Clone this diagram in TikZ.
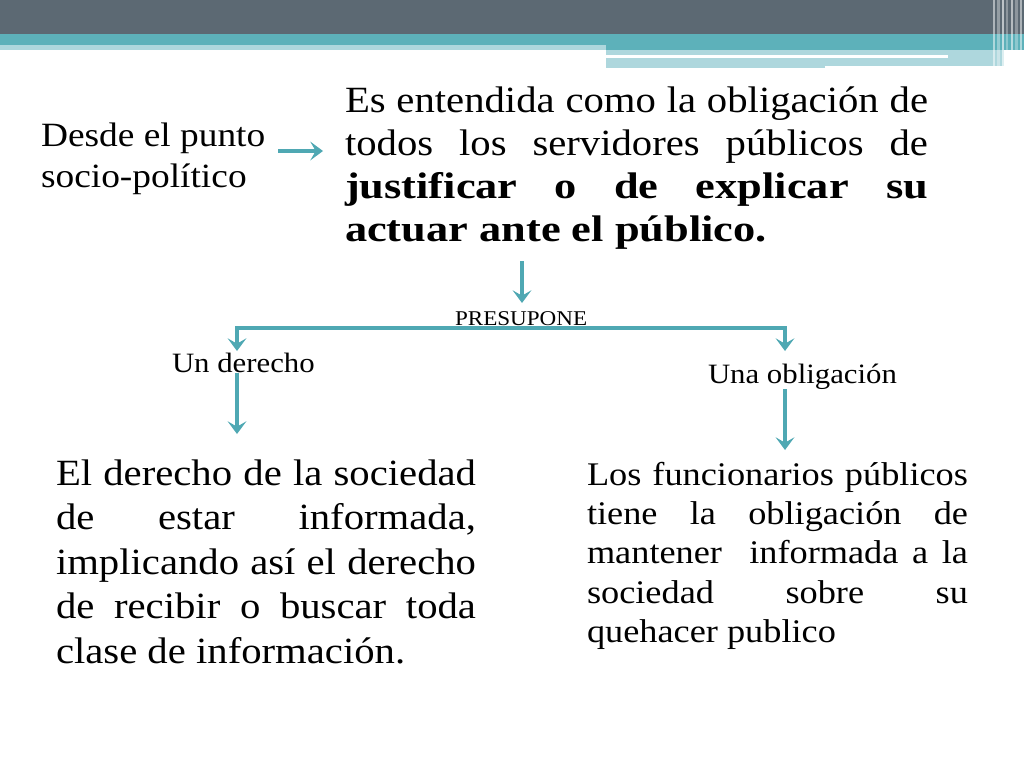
\documentclass[tikz,border=0pt]{standalone}
\usepackage{fontspec}
\setmainfont[FakeStretch=1.1,BoldFeatures={FakeStretch=1.2}]{Liberation Serif}
\usetikzlibrary{arrows.meta}
\definecolor{hdrdark}{HTML}{5C6973}
\definecolor{hdrteal}{HTML}{5DB1BA}
\definecolor{hdrlight}{HTML}{AED7DD}
\definecolor{arrc}{HTML}{4FA8B3}
\tikzset{
  tipc/.tip={Stealth[length=9.5pt,width=14pt,inset=4pt]},
  arr/.style={draw=arrc, line width=3pt, -tipc},
  arrb/.style={draw=arrc, line width=3pt, tipc-tipc},
  txt/.style={inner sep=0pt, outer sep=0pt, anchor=base west, text=black},
}
\begin{document}
\begin{tikzpicture}[x=0.75pt,y=-0.75pt]
\useasboundingbox (0,0) rectangle (1024,768);
\fill[white] (0,0) rectangle (1024,768);
% header
\fill[hdrdark] (0,0) rectangle (1024,34);
\fill[hdrteal] (0,34) rectangle (1024,45);
\fill[hdrlight] (0,45) rectangle (606,50);
\fill[hdrteal] (606,45) rectangle (1024,50);
\fill[hdrlight] (606,50) rectangle (825,68);
\fill[hdrlight] (825,50) rectangle (1004,66);
\fill[white] (606,55) rectangle (948,58);
\foreach \xx/\ww/\oo in {993/2/0.5, 997/3/0.35, 1002/1.5/0.6, 1006/2/0.3, 1011/1.5/0.55, 1015/3/0.3, 1020/1.5/0.5}
  \fill[white, opacity=\oo] (\xx,0) rectangle ({\xx+\ww},68);
% texts
\node[txt] (desde) at (41,146) {\parbox[t]{240pt}{\fontsize{25.5pt}{31pt}\selectfont Desde el punto\\socio-político}};
\node[txt] (top) at (345,112) {\parbox[t]{437.25pt}{\fontsize{27.75pt}{32.25pt}\selectfont
Es entendida como la obligación de\linebreak
todos los servidores públicos de\linebreak
\textbf{justificar o de explicar su\linebreak
actuar ante el público.}}};
\node[txt] (pres) at (455,325) {\fontsize{15.75pt}{18pt}\selectfont PRESUPONE};
\node[txt] (der) at (172,372) {\fontsize{21pt}{24pt}\selectfont Un derecho};
\node[txt] (obl) at (708,383) {\fontsize{21pt}{24pt}\selectfont Una obligación};
\node[txt] (left) at (56,485) {\parbox[t]{315pt}{\fontsize{27.75pt}{33.4pt}\selectfont
El derecho de la sociedad\linebreak
de estar informada,\linebreak
implicando así el derecho\linebreak
de recibir o buscar toda\linebreak
clase de información.}};
\node[txt] (right) at (587,485) {\parbox[t]{285.75pt}{\fontsize{24.75pt}{29.6pt}\selectfont
Los funcionarios públicos\linebreak
tiene la obligación de\linebreak
mantener\ \ informada a la\linebreak
sociedad sobre su\linebreak
quehacer publico}};
% connectors
\coordinate (a1s) at (278,151);
\coordinate (a1e) at (323,151);
\draw[arr] (a1s) -- (a1e);
\coordinate (a2s) at (522,261);
\coordinate (a2e) at (522,303);
\draw[arr] (a2s) -- (a2e);
\coordinate (bl) at (237,351);
\coordinate (br) at (785,351);
\draw[arrb] (bl) -- (237,328) -- (785,328) -- (br);
\coordinate (a3s) at (237,373);
\coordinate (a3e) at (237,434);
\draw[arr] (a3s) -- (a3e);
\coordinate (a4s) at (785,389);
\coordinate (a4e) at (785,450);
\draw[arr] (a4s) -- (a4e);
\end{tikzpicture}
\end{document}
